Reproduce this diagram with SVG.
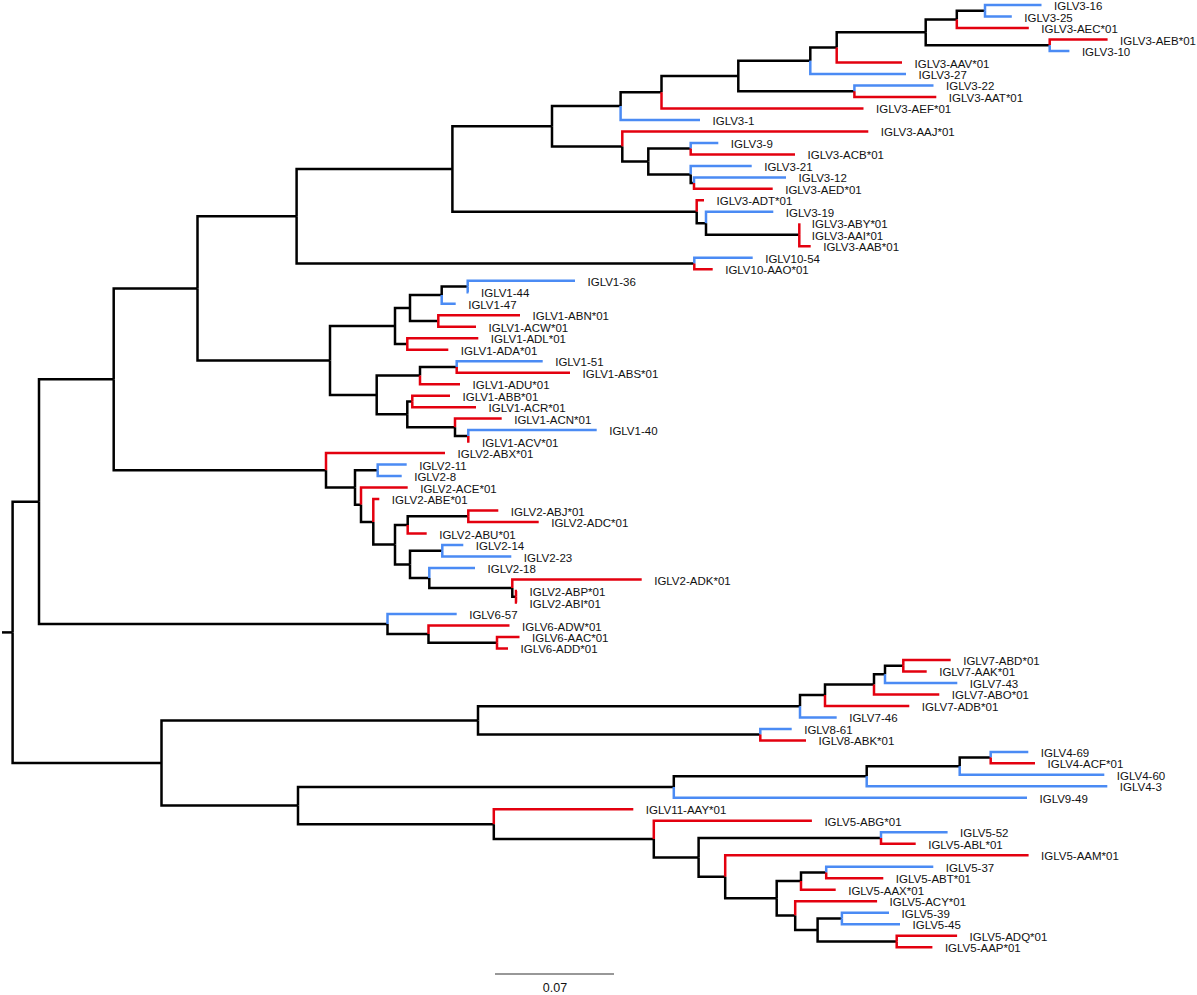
<svg xmlns="http://www.w3.org/2000/svg" width="1197" height="995" viewBox="0 0 1197 995">
<style>
.k{fill:none;stroke:#000;stroke-width:2.5}
.r{fill:none;stroke:#e3000f;stroke-width:2.5}
.b{fill:none;stroke:#4b8bf4;stroke-width:2.5}
text{font-family:"Liberation Sans",Arial,sans-serif;font-size:11.5px;fill:#111}
.sc{font-size:12.5px}
</style>
<rect width="1197" height="995" fill="#fff"/>
<g id="connectors">
<path class="k" d="M2,632.4H12.6"/>
<path class="k" d="M12.6,632.4V501.7H39"/>
<path class="k" d="M12.6,632.4V763.1H161.5"/>
<path class="k" d="M39,501.7V379.3H113.7"/>
<path class="k" d="M39,501.7V624H387.5"/>
<path class="k" d="M113.7,379.3V288.4H197.5"/>
<path class="k" d="M113.7,379.3V470.3H326"/>
<path class="k" d="M197.5,288.4V216.3H296.6"/>
<path class="k" d="M197.5,288.4V360.5H330"/>
<path class="k" d="M296.6,216.3V169H452.4"/>
<path class="k" d="M296.6,216.3V263.5H694.3"/>
<path class="b" d="M694.3,263.5V257.8H752.7"/>
<path class="r" d="M694.3,263.5V269.3H712.7"/>
<path class="k" d="M452.4,169V126.2H552"/>
<path class="k" d="M452.4,169V211.8H696.7"/>
<path class="k" d="M552,126.2V106H620.6"/>
<path class="k" d="M552,126.2V146.5H622.3"/>
<path class="k" d="M620.6,106V92.2H661.5"/>
<path class="b" d="M620.6,106V119.9H700"/>
<path class="k" d="M661.5,92.2V75.9H738.3"/>
<path class="r" d="M661.5,92.2V108.4H863.5"/>
<path class="k" d="M738.3,75.9V60.7H810.3"/>
<path class="k" d="M738.3,75.9V91.2H854.4"/>
<path class="b" d="M854.4,91.2V85.4H933.5"/>
<path class="r" d="M854.4,91.2V96.9H936.3"/>
<path class="k" d="M810.3,60.7V47.4H836.7"/>
<path class="b" d="M810.3,60.7V73.9H906"/>
<path class="k" d="M836.7,47.4V32.3H925.7"/>
<path class="r" d="M836.7,47.4V62.5H902"/>
<path class="k" d="M925.7,32.3V19.4H956.8"/>
<path class="k" d="M925.7,32.3V45.2H1049.7"/>
<path class="r" d="M1049.7,45.2V39.5H1107.6"/>
<path class="b" d="M1049.7,45.2V51H1069.4"/>
<path class="k" d="M956.8,19.4V10.7H985"/>
<path class="r" d="M956.8,19.4V28H1028.8"/>
<path class="b" d="M985,10.7V5H1041.5"/>
<path class="b" d="M985,10.7V16.5H1011.8"/>
<path class="r" d="M622.3,146.5V131.4H868.3"/>
<path class="k" d="M622.3,146.5V161.6H648.3"/>
<path class="k" d="M648.3,161.6V148.6H690.7"/>
<path class="k" d="M648.3,161.6V174.5H690.7"/>
<path class="b" d="M690.7,148.6V142.9H718.3"/>
<path class="r" d="M690.7,148.6V154.4H795"/>
<path class="b" d="M690.7,174.5V165.9H751.7"/>
<path class="k" d="M690.7,174.5V183.1H694"/>
<path class="b" d="M694,183.1V177.4H786"/>
<path class="r" d="M694,183.1V188.8H772.7"/>
<path class="r" d="M696.7,211.8V200.3H704"/>
<path class="k" d="M696.7,211.8V223.3H706"/>
<path class="b" d="M706,223.3V211.8H773.3"/>
<path class="k" d="M706,223.3V234.8H799.3"/>
<path class="r" d="M799.3,234.8V223.3"/>
<path class="r" d="M799.3,234.8V246.3H810.7"/>
<path class="k" d="M330,360.5V326H395"/>
<path class="k" d="M330,360.5V395H376.7"/>
<path class="k" d="M395,326V308.1H410"/>
<path class="k" d="M395,326V344H407.3"/>
<path class="r" d="M407.3,344V338.2H478.3"/>
<path class="r" d="M407.3,344V349.7H448.3"/>
<path class="k" d="M410,308.1V295.1H441.7"/>
<path class="k" d="M410,308.1V321H438.3"/>
<path class="r" d="M438.3,321V315.2H520"/>
<path class="r" d="M438.3,321V326.7H476"/>
<path class="k" d="M441.7,295.1V286.5H467.7"/>
<path class="b" d="M441.7,295.1V303.7H455.7"/>
<path class="b" d="M467.7,286.5V280.8H575"/>
<path class="b" d="M467.7,286.5V292.3H468.5"/>
<path class="k" d="M376.7,395V375.6H420"/>
<path class="k" d="M376.7,395V414.3H407.3"/>
<path class="k" d="M420,375.6V366.9H456.7"/>
<path class="r" d="M420,375.6V384.2H460"/>
<path class="b" d="M456.7,366.9V361.2H542.7"/>
<path class="r" d="M456.7,366.9V372.7H570"/>
<path class="k" d="M407.3,414.3V401.4H412.3"/>
<path class="k" d="M407.3,414.3V427.3H455"/>
<path class="r" d="M412.3,401.4V395.7H450"/>
<path class="r" d="M412.3,401.4V407.2H476"/>
<path class="r" d="M455,427.3V418.6H501.7"/>
<path class="k" d="M455,427.3V435.9H468.3"/>
<path class="b" d="M468.3,435.9V430.1H596.7"/>
<path class="r" d="M468.3,435.9V441.6H469.5"/>
<path class="r" d="M326,470.3V453.1H445"/>
<path class="k" d="M326,470.3V487.5H355"/>
<path class="k" d="M355,487.5V470.3H377.7"/>
<path class="k" d="M355,487.5V504.7H361"/>
<path class="b" d="M377.7,470.3V464.6H406.7"/>
<path class="b" d="M377.7,470.3V476.1H401.7"/>
<path class="r" d="M361,504.7V487.6H407.7"/>
<path class="k" d="M361,504.7V521.9H373.3"/>
<path class="r" d="M373.3,521.9V499.1H379.3"/>
<path class="k" d="M373.3,521.9V544.6H395"/>
<path class="k" d="M395,544.6V524.9H407.7"/>
<path class="k" d="M395,544.6V564.4H410"/>
<path class="k" d="M407.7,524.9V516.3H468.3"/>
<path class="r" d="M407.7,524.9V533.5H426.7"/>
<path class="r" d="M468.3,516.3V510.6H498.3"/>
<path class="r" d="M468.3,516.3V522.1H538.7"/>
<path class="k" d="M410,564.4V550.8H442.3"/>
<path class="k" d="M410,564.4V578H429.3"/>
<path class="b" d="M442.3,550.8V545H463.3"/>
<path class="b" d="M442.3,550.8V556.5H511.3"/>
<path class="b" d="M429.3,578V568H475"/>
<path class="k" d="M429.3,578V588.1H512.3"/>
<path class="r" d="M512.3,588.1V579.5H641.7"/>
<path class="k" d="M512.3,588.1V596.7H516"/>
<path class="r" d="M516,596.7V591H517"/>
<path class="r" d="M516,596.7V602.5H517"/>
<path class="b" d="M387.5,624V614H456.7"/>
<path class="k" d="M387.5,624V634.1H428.5"/>
<path class="r" d="M428.5,634.1V625.5H509.5"/>
<path class="k" d="M428.5,634.1V642.7H497"/>
<path class="r" d="M497,642.7V637H519.5"/>
<path class="r" d="M497,642.7V648.4H508"/>
<path class="k" d="M161.5,763.1V720.5H478"/>
<path class="k" d="M161.5,763.1V805.6H298"/>
<path class="k" d="M478,720.5V706.3H800"/>
<path class="k" d="M478,720.5V734.6H760.3"/>
<path class="b" d="M760.3,734.6V728.9H791.7"/>
<path class="r" d="M760.3,734.6V740.4H806"/>
<path class="k" d="M800,706.3V695.1H825"/>
<path class="b" d="M800,706.3V717.4H836.7"/>
<path class="k" d="M825,695.1V684.4H874"/>
<path class="r" d="M825,695.1V705.9H909.3"/>
<path class="k" d="M874,684.4V674.3H885"/>
<path class="r" d="M874,684.4V694.4H939.3"/>
<path class="k" d="M885,674.3V665.7H903.3"/>
<path class="b" d="M885,674.3V682.9H957.3"/>
<path class="r" d="M903.3,665.7V659.9H950.7"/>
<path class="r" d="M903.3,665.7V671.4H926.7"/>
<path class="k" d="M298,805.6V787H673.8"/>
<path class="k" d="M298,805.6V824.2H493.8"/>
<path class="k" d="M673.8,787V776.3H866.7"/>
<path class="b" d="M673.8,787V797.8H1027"/>
<path class="k" d="M866.7,776.3V766.2H959.7"/>
<path class="b" d="M866.7,776.3V786.3H1107.3"/>
<path class="k" d="M959.7,766.2V757.6H990.7"/>
<path class="b" d="M959.7,766.2V774.8H1104.3"/>
<path class="b" d="M990.7,757.6V751.9H1028.3"/>
<path class="r" d="M990.7,757.6V763.3H1035"/>
<path class="r" d="M493.8,824.2V809.3H633.3"/>
<path class="k" d="M493.8,824.2V839.1H653.8"/>
<path class="r" d="M653.8,839.1V820.8H811.9"/>
<path class="k" d="M653.8,839.1V857.4H698.6"/>
<path class="k" d="M698.6,857.4V838H881"/>
<path class="k" d="M698.6,857.4V876.8H725.2"/>
<path class="b" d="M881,838V832.3H947.6"/>
<path class="r" d="M881,838V843.8H915.7"/>
<path class="r" d="M725.2,876.8V855.3H1028.6"/>
<path class="k" d="M725.2,876.8V898.3H776.7"/>
<path class="k" d="M776.7,898.3V881.1H801"/>
<path class="k" d="M776.7,898.3V915.5H795.2"/>
<path class="k" d="M801,881.1V872.5H826.2"/>
<path class="r" d="M801,881.1V889.7H835.7"/>
<path class="b" d="M826.2,872.5V866.8H933.3"/>
<path class="r" d="M826.2,872.5V878.2H883.3"/>
<path class="r" d="M795.2,915.5V901.2H877.1"/>
<path class="k" d="M795.2,915.5V929.9H817.6"/>
<path class="k" d="M817.6,929.9V918.4H841.9"/>
<path class="k" d="M817.6,929.9V941.4H896.7"/>
<path class="b" d="M841.9,918.4V912.7H889"/>
<path class="b" d="M841.9,918.4V924.2H900"/>
<path class="r" d="M896.7,941.4V935.7H957.1"/>
<path class="r" d="M896.7,941.4V947.2H932.4"/>
</g>
<g id="IGLV3-16"><text x="1054" y="10">IGLV3-16</text></g>
<g id="IGLV3-25"><text x="1024.3" y="21.5">IGLV3-25</text></g>
<g id="IGLV3-AEC-01"><text x="1041.3" y="33">IGLV3-AEC*01</text></g>
<g id="IGLV3-AEB-01"><text x="1120.1" y="44.5">IGLV3-AEB*01</text></g>
<g id="IGLV3-10"><text x="1081.9" y="56">IGLV3-10</text></g>
<g id="IGLV3-AAV-01"><text x="914.5" y="67.5">IGLV3-AAV*01</text></g>
<g id="IGLV3-27"><text x="918.5" y="78.9">IGLV3-27</text></g>
<g id="IGLV3-22"><text x="946" y="90.4">IGLV3-22</text></g>
<g id="IGLV3-AAT-01"><text x="948.8" y="101.9">IGLV3-AAT*01</text></g>
<g id="IGLV3-AEF-01"><text x="876" y="113.4">IGLV3-AEF*01</text></g>
<g id="IGLV3-1"><text x="712.5" y="124.9">IGLV3-1</text></g>
<g id="IGLV3-AAJ-01"><text x="880.8" y="136.4">IGLV3-AAJ*01</text></g>
<g id="IGLV3-9"><text x="730.8" y="147.9">IGLV3-9</text></g>
<g id="IGLV3-ACB-01"><text x="807.5" y="159.4">IGLV3-ACB*01</text></g>
<g id="IGLV3-21"><text x="764.2" y="170.9">IGLV3-21</text></g>
<g id="IGLV3-12"><text x="798.5" y="182.4">IGLV3-12</text></g>
<g id="IGLV3-AED-01"><text x="785.2" y="193.8">IGLV3-AED*01</text></g>
<g id="IGLV3-ADT-01"><text x="716.5" y="205.3">IGLV3-ADT*01</text></g>
<g id="IGLV3-19"><text x="785.8" y="216.8">IGLV3-19</text></g>
<g id="IGLV3-ABY-01"><text x="811.8" y="228.3">IGLV3-ABY*01</text></g>
<g id="IGLV3-AAI-01"><text x="811.8" y="239.8">IGLV3-AAI*01</text></g>
<g id="IGLV3-AAB-01"><text x="823.2" y="251.3">IGLV3-AAB*01</text></g>
<g id="IGLV10-54"><text x="765.2" y="262.8">IGLV10-54</text></g>
<g id="IGLV10-AAO-01"><text x="725.2" y="274.3">IGLV10-AAO*01</text></g>
<g id="IGLV1-36"><text x="587.5" y="285.8">IGLV1-36</text></g>
<g id="IGLV1-44"><text x="481" y="297.3">IGLV1-44</text></g>
<g id="IGLV1-47"><text x="468.2" y="308.7">IGLV1-47</text></g>
<g id="IGLV1-ABN-01"><text x="532.5" y="320.2">IGLV1-ABN*01</text></g>
<g id="IGLV1-ACW-01"><text x="488.5" y="331.7">IGLV1-ACW*01</text></g>
<g id="IGLV1-ADL-01"><text x="490.8" y="343.2">IGLV1-ADL*01</text></g>
<g id="IGLV1-ADA-01"><text x="460.8" y="354.7">IGLV1-ADA*01</text></g>
<g id="IGLV1-51"><text x="555.2" y="366.2">IGLV1-51</text></g>
<g id="IGLV1-ABS-01"><text x="582.5" y="377.7">IGLV1-ABS*01</text></g>
<g id="IGLV1-ADU-01"><text x="472.5" y="389.2">IGLV1-ADU*01</text></g>
<g id="IGLV1-ABB-01"><text x="462.5" y="400.7">IGLV1-ABB*01</text></g>
<g id="IGLV1-ACR-01"><text x="488.5" y="412.2">IGLV1-ACR*01</text></g>
<g id="IGLV1-ACN-01"><text x="514.2" y="423.6">IGLV1-ACN*01</text></g>
<g id="IGLV1-40"><text x="609.2" y="435.1">IGLV1-40</text></g>
<g id="IGLV1-ACV-01"><text x="482" y="446.6">IGLV1-ACV*01</text></g>
<g id="IGLV2-ABX-01"><text x="457.5" y="458.1">IGLV2-ABX*01</text></g>
<g id="IGLV2-11"><text x="419.2" y="469.6">IGLV2-11</text></g>
<g id="IGLV2-8"><text x="414.2" y="481.1">IGLV2-8</text></g>
<g id="IGLV2-ACE-01"><text x="420.2" y="492.6">IGLV2-ACE*01</text></g>
<g id="IGLV2-ABE-01"><text x="391.8" y="504.1">IGLV2-ABE*01</text></g>
<g id="IGLV2-ABJ-01"><text x="510.8" y="515.6">IGLV2-ABJ*01</text></g>
<g id="IGLV2-ADC-01"><text x="551.2" y="527.1">IGLV2-ADC*01</text></g>
<g id="IGLV2-ABU-01"><text x="439.2" y="538.5">IGLV2-ABU*01</text></g>
<g id="IGLV2-14"><text x="475.8" y="550">IGLV2-14</text></g>
<g id="IGLV2-23"><text x="523.8" y="561.5">IGLV2-23</text></g>
<g id="IGLV2-18"><text x="487.5" y="573">IGLV2-18</text></g>
<g id="IGLV2-ADK-01"><text x="654.2" y="584.5">IGLV2-ADK*01</text></g>
<g id="IGLV2-ABP-01"><text x="529.5" y="596">IGLV2-ABP*01</text></g>
<g id="IGLV2-ABI-01"><text x="529.5" y="607.5">IGLV2-ABI*01</text></g>
<g id="IGLV6-57"><text x="469.2" y="619">IGLV6-57</text></g>
<g id="IGLV6-ADW-01"><text x="522" y="630.5">IGLV6-ADW*01</text></g>
<g id="IGLV6-AAC-01"><text x="532" y="642">IGLV6-AAC*01</text></g>
<g id="IGLV6-ADD-01"><text x="520.5" y="653.4">IGLV6-ADD*01</text></g>
<g id="IGLV7-ABD-01"><text x="963.2" y="664.9">IGLV7-ABD*01</text></g>
<g id="IGLV7-AAK-01"><text x="939.2" y="676.4">IGLV7-AAK*01</text></g>
<g id="IGLV7-43"><text x="969.8" y="687.9">IGLV7-43</text></g>
<g id="IGLV7-ABO-01"><text x="951.8" y="699.4">IGLV7-ABO*01</text></g>
<g id="IGLV7-ADB-01"><text x="921.8" y="710.9">IGLV7-ADB*01</text></g>
<g id="IGLV7-46"><text x="849.2" y="722.4">IGLV7-46</text></g>
<g id="IGLV8-61"><text x="804.2" y="733.9">IGLV8-61</text></g>
<g id="IGLV8-ABK-01"><text x="818.5" y="745.4">IGLV8-ABK*01</text></g>
<g id="IGLV4-69"><text x="1040.8" y="756.9">IGLV4-69</text></g>
<g id="IGLV4-ACF-01"><text x="1047.5" y="768.3">IGLV4-ACF*01</text></g>
<g id="IGLV4-60"><text x="1116.8" y="779.8">IGLV4-60</text></g>
<g id="IGLV4-3"><text x="1119.8" y="791.3">IGLV4-3</text></g>
<g id="IGLV9-49"><text x="1039.5" y="802.8">IGLV9-49</text></g>
<g id="IGLV11-AAY-01"><text x="645.8" y="814.3">IGLV11-AAY*01</text></g>
<g id="IGLV5-ABG-01"><text x="824.4" y="825.8">IGLV5-ABG*01</text></g>
<g id="IGLV5-52"><text x="960.1" y="837.3">IGLV5-52</text></g>
<g id="IGLV5-ABL-01"><text x="928.2" y="848.8">IGLV5-ABL*01</text></g>
<g id="IGLV5-AAM-01"><text x="1041.1" y="860.3">IGLV5-AAM*01</text></g>
<g id="IGLV5-37"><text x="945.8" y="871.8">IGLV5-37</text></g>
<g id="IGLV5-ABT-01"><text x="895.8" y="883.2">IGLV5-ABT*01</text></g>
<g id="IGLV5-AAX-01"><text x="848.2" y="894.7">IGLV5-AAX*01</text></g>
<g id="IGLV5-ACY-01"><text x="889.6" y="906.2">IGLV5-ACY*01</text></g>
<g id="IGLV5-39"><text x="901.5" y="917.7">IGLV5-39</text></g>
<g id="IGLV5-45"><text x="912.5" y="929.2">IGLV5-45</text></g>
<g id="IGLV5-ADQ-01"><text x="969.6" y="940.7">IGLV5-ADQ*01</text></g>
<g id="IGLV5-AAP-01"><text x="944.9" y="952.2">IGLV5-AAP*01</text></g>
<g id="scale-bar">
<path d="M495,974H614" fill="none" stroke="#333" stroke-width="1.2"/>
<text class="sc" x="555" y="992" text-anchor="middle">0.07</text>
</g>
</svg>
